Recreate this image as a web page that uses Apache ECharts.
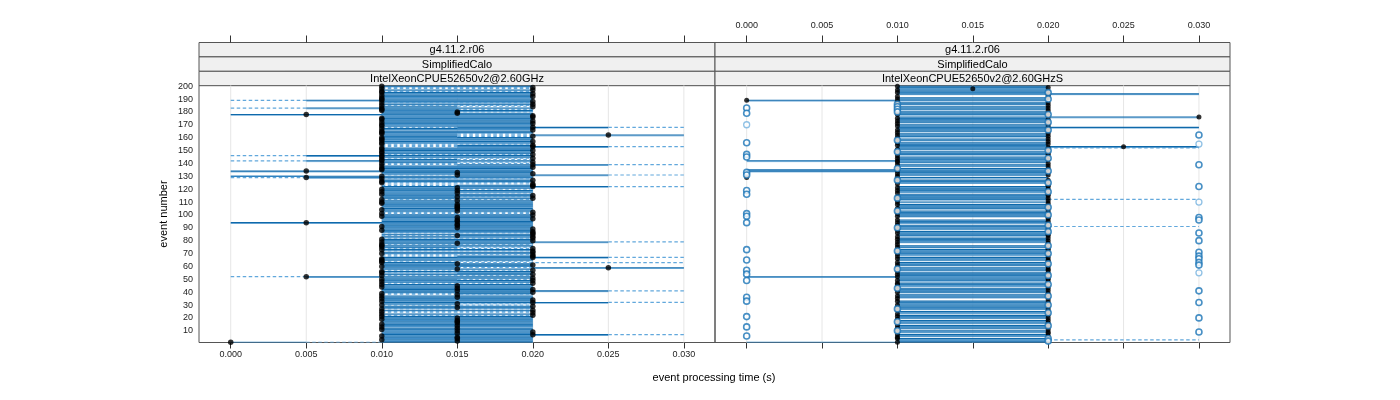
<!DOCTYPE html>
<html><head><meta charset="utf-8">
<script src="https://cdn.jsdelivr.net/npm/echarts@6/dist/echarts.min.js"></script>
<style>html,body{margin:0;padding:0;background:#fff}#c{width:1400px;height:400px}</style>
</head><body><div id="c"></div>
<script>
// ---- data (times in milliseconds) ----
const timeBins = [0, 5, 10, 15, 20, 25, 30];
const xTickValues = [0, 5, 10, 15, 20, 25, 30];
const yTickValues = [10,20,30,40,50,60,70,80,90,100,110,120,130,140,150,160,170,180,190,200];
const stripLevel1 = 'g4.11.2.r06';
const stripLevel2 = 'SimplifiedCalo';
const panelNames = ['IntelXeonCPUE52650v2@2.60GHz', 'IntelXeonCPUE52650v2@2.60GHzS'];
const xTitle = 'event processing time (s)';
const yTitle = 'event number';

// segment codes per event (1..200), one char per 5 ms bin: 0 none, 1 solid, 2 light solid, 3 dashed
const leftCodes = [
"231100","001100","001100","002200","001100","001100","001113","002200","001100","001100",
"001100","001100","002200","001100","001100","001100","001100","002200","001100","001100",
"001100","003300","001100","003300","003300","001100","003300","001100","001100","003300",
"001300","001113","002200","001100","001100","001100","001100","003300","003100","001100",
"001113","001100","002200","001100","001100","001100","003300","001100","001100","001300",
"001100","311100","003300","001100","003100","001100","003300","001100","001311","002200",
"001100","001100","001333","003300","001100","001100","001113","003100","003300","002200",
"001100","003300","001100","003300","001300","001100","003300","001100","001113","001100",
"001100","003300","001100","003100","001100","003300","001100","001100","001100","001100",
"002200","001100","001100","111100","001100","002200","001100","001100","001100","001100",
"003300","003300","001100","001100","001100","002200","001100","001100","001100","001100",
"001100","003300","001100","001300","001100","001100","001300","001100","001100","001300",
"001100","001113","003100","003300","003300","001100","001100","003300","311100","211100",
"003113","001100","001100","111100","001100","001100","002200","001100","003113","003300",
"001300","311100","001300","003300","001100","311100","003300","001100","001100","001100",
"002200","001100","003113","003100","003300","001100","001100","002200","001100","001100",
"001300","001311","001300","001100","001100","002200","001100","003113","001100","002200",
"001100","001100","001100","002200","001100","001100","001100","111100","001100","001300",
"001100","001300","311100","001300","003300","001100","003300","001100","311100","001100",
"002200","001100","001100","002200","001100","003300","001100","003300","003300","001100"];
const leftDots = [
0,15,10,15,15,10,20,15,20,15, 10,15,10,15,10,15,15,15,10,15,
10,20,10,20,10,20,10,15,20,10, 15,20,10,20,10,15,10,15,10,20,
15,20,15,10,15,10,20,10,20,10, 20,5,10,20,10,10,20,15,25,10,
20,15,10,10,10,10,20,20,20,10, 20,20,10,20,10,10,10,15,10,20,
10,20,20,15,20,20,20,10,20,15, 10,15,15,5,15,15,20,15,10,20,
10,20,15,10,15,15,15,15,10,10, 15,10,20,15,20,10,15,10,15,10,
15,20,20,20,10,10,20,10,5,10, 15,20,15,5,10,10,20,10,20,10,
20,10,10,20,10,10,20,10,10,20, 10,10,20,20,10,10,20,10,10,10,
20,25,10,10,10,20,10,20,10,10, 20,10,20,10,10,20,20,5,15,15,
10,10,10,20,10,20,10,20,10,10, 10,20,10,20,10,10,20,10,20,10];

const rightCodes = [
"221100","001100","001133","001100","000000","001100","001100","000000","001100","001100",
"000000","001100","001100","001100","000000","001100","001100","001100","000000","001100",
"001100","001100","000000","001100","001100","000000","001100","001100","001100","001100",
"001100","001100","001100","000000","000000","001100","001100","001100","000000","001100",
"001100","001100","001100","000000","001100","001100","001100","000000","001100","001100",
"001100","111100","001100","001100","001100","000000","001100","001100","001100","000000",
"001100","001100","001100","000000","001100","001100","001100","000000","001100","001100",
"001100","001100","001100","000000","001100","001100","000000","000000","001100","001100",
"001100","001100","000000","001100","001100","001100","001100","000000","001100","001100",
"001133","001100","000000","001100","001100","001100","000000","000000","001100","001100",
"001100","001100","001100","000000","001100","001100","001100","001100","000000","001100",
"000000","001133","001100","001100","001100","001100","000000","001100","001100","001100",
"001100","001100","000000","000000","001100","001100","001100","000000","001100","000000",
"001100","001100","001100","111100","111100","001100","000000","001100","001100","000000",
"001100","111100","001100","001100","001100","000000","001100","001100","001100","000000",
"001100","001133","001111","001100","001100","001100","000000","001100","001100","000000",
"001100","001100","001100","000000","001100","001100","001100","001111","001100","001100",
"000000","001100","001100","001100","001100","001111","000000","001100","001100","001100",
"000000","001100","001100","001100","000000","001100","001100","000000","111100","001100",
"001100","000000","000000","001111","001100","001100","001100","001100","001100","001100"];
const rightDots = [
10,20,20,10,10,20,10,20,20,10, 20,10,20,10,20,20,10,20,10,20,
10,20,10,20,20,10,20,10,20,10, 20,20,10,20,10,20,10,20,20,10,
20,10,20,10,20,10,10,20,10,20, 20,10,20,10,20,10,20,20,10,20,
10,20,10,20,20,10,20,10,20,10, 20,10,20,20,10,20,10,20,10,20,
10,20,10,20,20,10,20,10,20,10, 20,10,20,10,20,10,20,20,10,20,
10,20,10,20,10,20,20,10,20,10, 20,10,20,10,20,20,10,20,10,20,
10,20,20,10,20,10,20,10,0,10, 20,10,20,10,10,20,10,20,10,20,
10,10,20,10,20,10,20,20,10,20, 10,20,25,10,20,10,20,10,20,10,
20,10,20,10,20,10,20,20,10,20, 10,20,10,20,10,30,20,10,20,10,
20,10,20,10,20,10,20,10,0,10, 20,10,20,20,10,20,10,15,20,10];
// open circles (other runs): event numbers with a circle at 0 ms / 30 ms, and [ms, event] pairs
const rightCircles0 = [183,179,156,147,145,133,131,119,116,101,99,94,73,65,57,54,49,36,33,21,13,6];
const rightCircles0Light = [170];
const rightCircles30 = [162,139,122,98,96,86,80,71,68,66,63,61,41,32,20,9];
const rightCircles30Light = [155,110,55];
const rightCirclesMid = [[10,186],[10,184],[10,182],[10,180],[20,195],[20,190],[20,178],[20,172],[10,158],
 [20,166],[20,150],[10,149],[20,144],[10,136],[20,134],[10,127],[20,125],[20,118],[10,113],[20,106],
 [10,103],[20,100],[20,92],[10,90],[20,87],[20,76],[10,72],[20,70],[20,62],[10,58],[20,53],[20,46],
 [10,43],[20,37],[20,30],[10,27],[20,24],[10,17],[20,14],[10,10],[20,4],[20,2]];

// ---- layout / style ----
const X_MIN = -2.1, X_MAX = 32.06, Y_MIN = 0.9, Y_MAX = 200.5;
const FONT = 'Liberation Sans, Arial, sans-serif';
const P = [{left:199, width:516}, {left:715, width:515}];
const GTOP = 85.5, GH = 257;
const DARK = '#0f69aa', LIGHT = '#5a9fd3', MID = '#2f82c0', DASH = '#62a8dc';

function segRenderer(codes) {
  return function (params, api) {
    const code = codes[params.dataIndex];
    const ev = api.value(1);
    const children = [];
    let j = 0;
    while (j < code.length) {
      const c = code[j];
      if (c === '0') { j++; continue; }
      let k = j;
      while (k + 1 < code.length && code[k + 1] === c) k++;
      const a = api.coord([timeBins[j], ev]);
      const b = api.coord([timeBins[k + 1], ev]);
      if (c === '1') {
        children.push({type:'line', shape:{x1:a[0], y1:a[1]+0.8, x2:b[0], y2:b[1]+0.8}, style:{stroke:LIGHT, lineWidth:0.8}});
        children.push({type:'line', shape:{x1:a[0], y1:a[1], x2:b[0], y2:b[1]}, style:{stroke:DARK, lineWidth:1.1}});
      } else if (c === '2') {
        children.push({type:'line', shape:{x1:a[0], y1:a[1], x2:b[0], y2:b[1]}, style:{stroke:MID, lineWidth:1.3}});
      } else {
        children.push({type:'line', shape:{x1:a[0], y1:a[1], x2:b[0], y2:b[1]}, style:{stroke:DASH, lineWidth:1.2, lineDash:[3.5,2.5]}});
      }
      j = k + 1;
    }
    return {type:'group', children};
  };
}
function gridRenderer(params, api) {
  const p = api.coord([api.value(0), Y_MIN]);
  const cs = params.coordSys;
  return {type:'line', shape:{x1:p[0], y1:cs.y, x2:p[0], y2:cs.y+cs.height}, style:{stroke:'#e6e6e6', lineWidth:1}};
}
function xAx(gi, position, showLabels, offset) {
  return {type:'value', gridIndex:gi, position, offset, min:X_MIN, max:X_MAX,
    axisLine:{show:false}, splitLine:{show:false},
    axisTick:{show:true, customValues:xTickValues, length: position === 'top' ? 7 : 6, lineStyle:{color:'#333'}},
    axisLabel:{show:showLabels, customValues:xTickValues, formatter: v => (v/1000).toFixed(3),
      fontSize:9, color:'#222', fontFamily:FONT, margin: position === 'top' ? 12 : 8}};
}
function yAx(gi, showLabels) {
  const o = {type:'value', gridIndex:gi, min:Y_MIN, max:Y_MAX, axisLine:{show:false}, splitLine:{show:false},
    axisTick:{show:false}, axisLabel:{show:showLabels, customValues:yTickValues, fontSize:9, color:'#222', fontFamily:FONT, margin:6}};
  if (showLabels) {
    o.name = yTitle; o.nameLocation = 'middle'; o.nameGap = 30;
    o.nameTextStyle = {fontSize:11, color:'#000', fontFamily:FONT};
  }
  return o;
}

const graphics = [];
const stripTexts = [[stripLevel1, stripLevel2, panelNames[0]], [stripLevel1, stripLevel2, panelNames[1]]];
const SH = 14.4, STOP = 42.5;
P.forEach((p, pi) => {
  for (let r = 0; r < 3; r++) {
    graphics.push({type:'rect', shape:{x:p.left, y:STOP + r*SH, width:p.width, height:SH},
      style:{fill:'#f0f0f0', stroke:'#555', lineWidth:1}, silent:true});
    graphics.push({type:'text', x:p.left + p.width/2, y:STOP + r*SH + SH/2 + 0.5,
      style:{text:stripTexts[pi][r], align:'center', verticalAlign:'middle', fontSize:11, fill:'#000', fontFamily:FONT}, silent:true});
  }
});
graphics.push({type:'text', x:714, y:378, style:{text:xTitle, align:'center', verticalAlign:'middle', fontSize:11, fill:'#000', fontFamily:FONT}});

const toPts = (dots) => dots.map((d, i) => [d, i + 1]);
const circ = (list, ms) => list.map(e => [ms, e]);

const option = {
  animation:false,
  backgroundColor:'#fff',
  grid:[
    {left:P[0].left, top:GTOP, width:P[0].width, height:GH, show:true, borderColor:'#555', borderWidth:1, backgroundColor:'transparent'},
    {left:P[1].left, top:GTOP, width:P[1].width, height:GH, show:true, borderColor:'#555', borderWidth:1, backgroundColor:'transparent'}
  ],
  xAxis:[xAx(0,'bottom',true,0), xAx(0,'top',false,43), xAx(1,'bottom',false,0), xAx(1,'top',true,43)],
  yAxis:[yAx(0,true), yAx(1,false)],
  graphic:graphics,
  series:[
    {type:'custom', xAxisIndex:0, yAxisIndex:0, data:xTickValues.map(v=>[v]), renderItem:gridRenderer, silent:true, z:1},
    {type:'custom', xAxisIndex:2, yAxisIndex:1, data:xTickValues.map(v=>[v]), renderItem:gridRenderer, silent:true, z:1},
    {type:'custom', xAxisIndex:0, yAxisIndex:0, data:toPts(leftDots), encode:{x:0,y:1}, renderItem:segRenderer(leftCodes), clip:true, silent:true, z:2},
    {type:'custom', xAxisIndex:2, yAxisIndex:1, data:toPts(rightDots), encode:{x:0,y:1}, renderItem:segRenderer(rightCodes), clip:true, silent:true, z:2},
    {type:'scatter', xAxisIndex:0, yAxisIndex:0, data:toPts(leftDots), symbol:'circle', symbolSize:5.5, itemStyle:{color:'#000'}, silent:true, z:3},
    {type:'scatter', xAxisIndex:2, yAxisIndex:1, data:toPts(rightDots), symbol:'circle', symbolSize:5, itemStyle:{color:'#000'}, silent:true, z:3},
    {type:'scatter', xAxisIndex:2, yAxisIndex:1, data:circ(rightCircles0,0).concat(circ(rightCircles30,30), rightCirclesMid),
      symbol:'circle', symbolSize:6, itemStyle:{color:'#fff', borderColor:'#1a74b6', borderWidth:1.6}, silent:true, z:4},
    {type:'scatter', xAxisIndex:2, yAxisIndex:1, data:circ(rightCircles0Light,0).concat(circ(rightCircles30Light,30)),
      symbol:'circle', symbolSize:6, itemStyle:{color:'#fff', borderColor:'#74b2df', borderWidth:1.3}, silent:true, z:4}
  ]
};
const chart = echarts.init(document.getElementById('c'));
chart.setOption(option);
</script></body></html>
